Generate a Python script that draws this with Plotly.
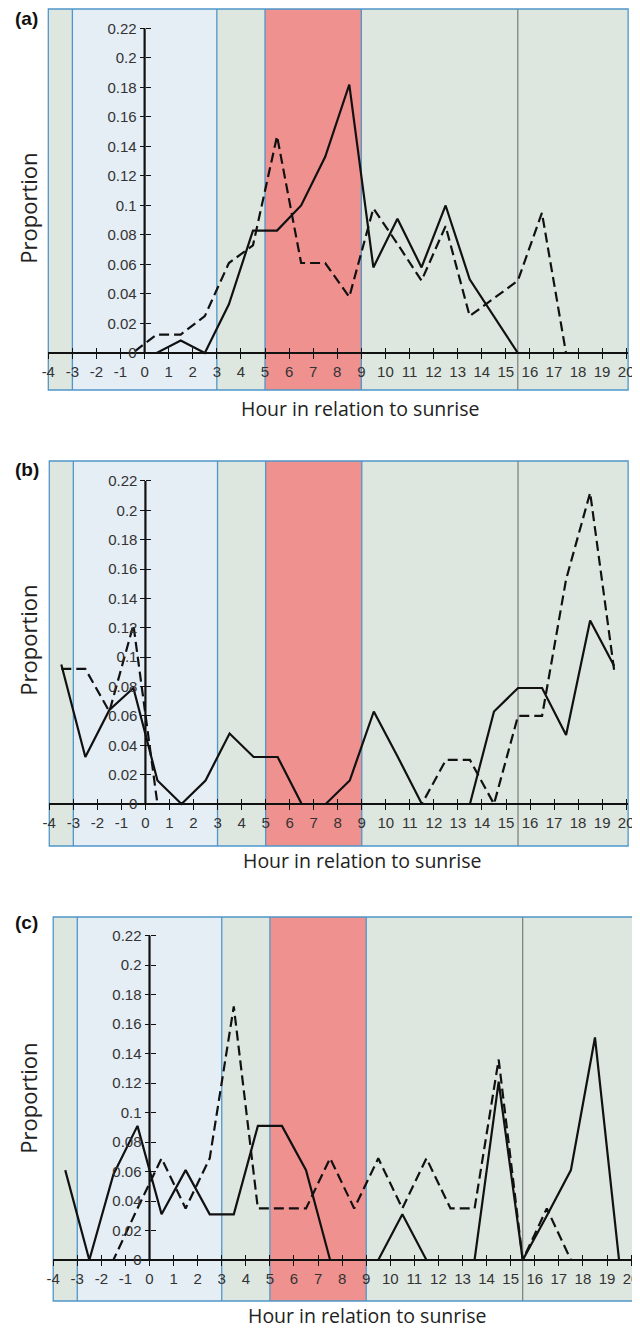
import plotly.graph_objects as go

# ---------------- data ----------------
hours = [-3.5, -2.5, -1.5, -0.5, 0.5, 1.5, 2.5, 3.5, 4.5, 5.5, 6.5, 7.5,
         8.5, 9.5, 10.5, 11.5, 12.5, 13.5, 14.5, 15.5, 16.5, 17.5, 18.5, 19.5]

a_solid = [0, 0, 0, 0, 0, 0.0085, 0, 0.033, 0.083, 0.083, 0.1, 0.133,
           0.182, 0.058, 0.091, 0.058, 0.1, 0.05, 0.025, 0, 0, 0, 0, 0]
a_dashed = [0, 0, 0, 0, 0.0125, 0.0125, 0.025, 0.061, 0.073, 0.147, 0.061, 0.061,
            0.038, 0.098, 0.074, 0.049, 0.086, 0.025, 0.037, 0.049, 0.095, 0, 0, 0]

b_solid = [0.095, 0.032, 0.064, 0.079, 0.016, 0, 0.016, 0.048, 0.032, 0.032, 0, 0,
           0.016, 0.063, 0.032, 0, 0, 0, 0.063, 0.079, 0.079, 0.047, 0.125, 0.094]
b_dashed = [0.092, 0.092, 0.063, 0.122, 0, 0, 0, 0, 0, 0, 0, 0,
            0, 0, 0, 0, 0.030, 0.030, 0, 0.060, 0.060, 0.153, 0.212, 0.091]

c_solid = [0.061, 0, 0.058, 0.091, 0.031, 0.061, 0.031, 0.031, 0.091, 0.091, 0.061, 0,
           0, 0, 0.031, 0, 0, 0, 0.121, 0, 0.03, 0.061, 0.151, 0]
c_dashed = [0, 0, 0, 0.035, 0.069, 0.035, 0.069, 0.172, 0.035, 0.035, 0.035, 0.069,
            0.035, 0.069, 0.035, 0.069, 0.035, 0.035, 0.136, 0, 0.035, 0, 0, 0]

panel_labels = ["(a)", "(b)", "(c)"]
x_ticks = list(range(-4, 21))
y_ticks = [0, 0.02, 0.04, 0.06, 0.08, 0.1, 0.12, 0.14, 0.16, 0.18, 0.2, 0.22]
y_ticktext = ["0", "0.02", "0.04", "0.06", "0.08", "0.1", "0.12", "0.14", "0.16", "0.18", "0.2", "0.22"]

# periods (hours relative to sunrise)
night_period = [-3, 3]
peak_period = [5, 9]
period_edges = [-3, 3, 5, 9]
sunset_hour = 15.5

x_title = "Hour in relation to sunrise"
y_title = "Proportion"

# ---------------- layout geometry (page pixels) ----------------
OFF = 8                      # default page body margin
W, H = 640 - OFF, 1330 - OFF  # figure size


def px(xp):
    return (xp - OFF) / W


def py(yp):
    return 1 - (yp - OFF) / H


XR = [-4, 20.08]
panels = [
    dict(x0=42, x1=634, top=9, bottom=390, yr=[-0.0251, 0.2332], lab_y=19, prop_y=208, hour_x=360, hour_y=408),
    dict(x0=43, x1=634, top=461, bottom=846, yr=[-0.0286, 0.2336], lab_y=470, prop_y=640, hour_x=362, hour_y=860),
    dict(x0=47, x1=639, top=917, bottom=1301, yr=[-0.0278, 0.2327], lab_y=922, prop_y=1098, hour_x=367, hour_y=1315),
]
series = [(a_solid, a_dashed), (b_solid, b_dashed), (c_solid, c_dashed)]

GREEN = "#dee7df"
LBLUE = "#e5edf5"
RED = "#ef918f"
BORDER = "#4f97c9"
TICKFONT = dict(family="Liberation Sans Narrow, Liberation Sans, sans-serif", size=15, color="#333333")
HOURFONT = dict(family="Open Sans, Noto Sans, sans-serif", size=19.5, color="#222222")
PROPFONT = dict(family="Open Sans, Noto Sans, sans-serif", size=22, color="#222222")

fig = go.Figure()
layout = {}
shapes = []
annotations = []

for i, (p, (sol, das)) in enumerate(zip(panels, series)):
    n = i + 1
    xa_main = f"xaxis{'' if n == 1 else n}"
    ya_main = f"yaxis{'' if n == 1 else n}"
    xo, yo = n + 3, n + 3  # overlay axes for the crossing half of ticks
    xref, yref = f"x{'' if n == 1 else n}", f"y{'' if n == 1 else n}"
    xref_o, yref_o = f"x{xo}", f"y{yo}"

    xdom = [px(p["x0"]), px(p["x1"])]
    ydom = [py(p["bottom"]), py(p["top"])]
    yr = p["yr"]
    ypos0 = ydom[0] + (0 - yr[0]) / (yr[1] - yr[0]) * (ydom[1] - ydom[0])
    xpos0 = xdom[0] + (0 - XR[0]) / (XR[1] - XR[0]) * (xdom[1] - xdom[0])

    common_x = dict(domain=xdom, range=XR, showgrid=False, zeroline=False,
                    tickmode="array", tickvals=x_ticks, ticklen=5, tickwidth=1.3,
                    tickcolor="#111111", fixedrange=True)
    common_y = dict(domain=ydom, range=yr, showgrid=False, zeroline=False,
                    tickmode="array", tickvals=y_ticks, ticklen=5, tickwidth=1.3,
                    tickcolor="#111111", fixedrange=True)

    layout[xa_main] = dict(common_x, anchor="free", position=ypos0, showline=True,
                           linecolor="#111111", linewidth=2.2, ticks="outside",
                           ticktext=[str(t) for t in x_ticks], tickfont=TICKFONT,
                           ticklabeloverflow="allow")
    layout[ya_main] = dict(common_y, anchor="free", position=xpos0, showline=False,
                           ticks="outside", ticktext=y_ticktext, tickfont=TICKFONT)
    layout[f"xaxis{xo}"] = dict(common_x, anchor="free", position=ypos0, overlaying=xref,
                                ticks="inside", showticklabels=False, showline=False)
    layout[f"yaxis{yo}"] = dict(common_y, anchor="free", position=xpos0, overlaying=yref,
                                ticks="inside", showticklabels=False, showline=False)

    fig.add_trace(go.Scatter(x=hours, y=sol, mode="lines", xaxis=xref, yaxis=yref,
                             line=dict(color="#111111", width=2.2), showlegend=False,
                             hoverinfo="skip"))
    fig.add_trace(go.Scatter(x=hours, y=das, mode="lines", xaxis=xref_o, yaxis=yref_o,
                             line=dict(color="#111111", width=2.2, dash="10px,5px"),
                             showlegend=False, hoverinfo="skip"))

    yd = f"{yref} domain"
    # background
    shapes.append(dict(type="rect", xref=f"{xref} domain", yref=yd, x0=0, x1=1, y0=0, y1=1,
                       fillcolor=GREEN, line=dict(width=0), layer="below"))
    shapes.append(dict(type="rect", xref=xref, yref=yd, x0=night_period[0], x1=night_period[1],
                       y0=0, y1=1, fillcolor=LBLUE, line=dict(width=0), layer="below"))
    shapes.append(dict(type="rect", xref=xref, yref=yd, x0=peak_period[0], x1=peak_period[1],
                       y0=0, y1=1, fillcolor=RED, line=dict(width=0), layer="below"))
    for e in period_edges:
        shapes.append(dict(type="line", xref=xref, yref=yd, x0=e, x1=e, y0=0, y1=1,
                           line=dict(color=BORDER, width=1.3), layer="below"))
    shapes.append(dict(type="line", xref=xref, yref=yd, x0=sunset_hour, x1=sunset_hour, y0=0, y1=1,
                       line=dict(color="#666666", width=1), layer="below"))
    shapes.append(dict(type="rect", xref=f"{xref} domain", yref=yd, x0=0, x1=1, y0=0, y1=1,
                       fillcolor="rgba(0,0,0,0)", line=dict(color=BORDER, width=1.3), layer="below"))
    # vertical axis line from 0 to 0.22
    shapes.append(dict(type="line", xref=xref, yref=yref, x0=0, x1=0, y0=y_ticks[0], y1=y_ticks[-1],
                       line=dict(color="#111111", width=2.2), layer="between"))

    annotations.append(dict(text=f"<b>{panel_labels[i]}</b>", xref="paper", yref="paper",
                            x=px(20), y=py(p["lab_y"]), xanchor="center", yanchor="middle",
                            showarrow=False,
                            font=dict(family="Liberation Sans, Arial, sans-serif", size=19, color="#111111")))
    annotations.append(dict(text=y_title, xref="paper", yref="paper", x=px(21), y=py(p["prop_y"]),
                            xanchor="center", yanchor="middle",
                            textangle=-90, showarrow=False, font=PROPFONT))
    annotations.append(dict(text=x_title, xref="paper", yref="paper",
                            x=px(p["hour_x"]), y=py(p["hour_y"]),
                            xanchor="center", yanchor="middle",
                            showarrow=False, font=HOURFONT))

fig.update_layout(width=W, height=H, margin=dict(l=0, r=0, t=0, b=0),
                  paper_bgcolor="white", plot_bgcolor="rgba(0,0,0,0)",
                  shapes=shapes, annotations=annotations, showlegend=False, **layout)

fig.write_html("out.html")
